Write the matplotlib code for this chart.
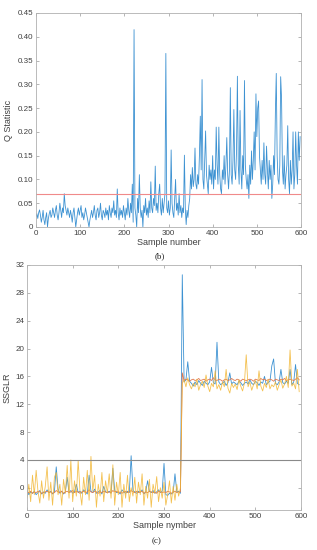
import numpy as np
import matplotlib
matplotlib.use("Agg")
import matplotlib.pyplot as plt

# ---- panel (b): Q statistic, sampled every 2 samples ----
q_x = np.arange(0, 600, 2)
q_vals = [
    0.022, 0.028, 0.018, 0.030, 0.036, 0.025, 0.010, 0.020, 0.035, 0.015, 0.005, 0.020, 0.030, 0.000, 0.018, 0.028, 0.035, 0.020, 0.025, 0.040,
    0.030, 0.020, 0.035, 0.045, 0.025, 0.015, 0.030, 0.050, 0.035, 0.020, 0.040, 0.030, 0.070, 0.045, 0.035, 0.025, 0.040, 0.030, 0.020, 0.035,
    0.025, 0.010, 0.030, 0.040, 0.020, 0.000, 0.015, 0.030, 0.040, 0.025, 0.035, 0.045, 0.020, 0.030, 0.015, 0.025, 0.040, 0.030, 0.020, 0.010,
    0.000, 0.015, 0.025, 0.035, 0.020, 0.030, 0.045, 0.025, 0.015, 0.035, 0.040, 0.020, 0.030, 0.050, 0.025, 0.015, 0.035, 0.030, 0.020, 0.040,
    0.025, 0.035, 0.015, 0.045, 0.030, 0.020, 0.040, 0.030, 0.055, 0.025, 0.035, 0.020, 0.080, 0.030, 0.015, 0.040, 0.025, 0.035, 0.020, 0.045,
    0.030, 0.015, 0.040, 0.025, 0.060, 0.035, 0.020, 0.050, 0.030, 0.090, 0.010, 0.415, 0.040, 0.025, 0.000, 0.060, 0.030, 0.110, 0.040, 0.020,
    0.035, 0.000, 0.045, 0.030, 0.060, 0.025, 0.040, 0.020, 0.055, 0.030, 0.095, 0.040, 0.030, 0.060, 0.045, 0.128, 0.035, 0.050, 0.030, 0.070,
    0.090, 0.040, 0.025, 0.060, 0.030, 0.050, 0.070, 0.365, 0.040, 0.030, 0.055, 0.025, 0.040, 0.162, 0.050, 0.030, 0.020, 0.060, 0.100, 0.035,
    0.050, 0.025, 0.070, 0.030, 0.045, 0.020, 0.040, 0.030, 0.151, 0.040, 0.005, 0.035, 0.020, 0.045, 0.060, 0.110, 0.080, 0.125, 0.085, 0.100,
    0.166, 0.090, 0.080, 0.110, 0.090, 0.150, 0.233, 0.120, 0.310, 0.100, 0.080, 0.140, 0.202, 0.110, 0.090, 0.070, 0.130, 0.100, 0.120, 0.090,
    0.150, 0.080, 0.120, 0.100, 0.210, 0.130, 0.090, 0.210, 0.110, 0.080, 0.070, 0.120, 0.100, 0.150, 0.090, 0.130, 0.188, 0.110, 0.080, 0.120,
    0.293, 0.110, 0.090, 0.140, 0.247, 0.120, 0.100, 0.160, 0.317, 0.130, 0.090, 0.245, 0.120, 0.080, 0.150, 0.110, 0.308, 0.130, 0.100, 0.080,
    0.110, 0.060, 0.130, 0.090, 0.160, 0.100, 0.140, 0.200, 0.120, 0.280, 0.190, 0.250, 0.265, 0.150, 0.120, 0.090, 0.140, 0.100, 0.177, 0.110,
    0.090, 0.170, 0.120, 0.080, 0.140, 0.100, 0.130, 0.060, 0.090, 0.150, 0.110, 0.240, 0.323, 0.150, 0.100, 0.090, 0.130, 0.316, 0.270, 0.120,
    0.090, 0.150, 0.080, 0.110, 0.130, 0.213, 0.100, 0.070, 0.140, 0.090, 0.120, 0.200, 0.080, 0.110, 0.200, 0.130, 0.090, 0.200, 0.140, 0.190,
]
q_limit = 0.07

# ---- panel (c): SSGLR, sampled every 4 samples ----
s_x = np.arange(0, 600, 4)
s_blue = [
    -0.3, -1.0, -0.6, -0.8, -0.5, -1.0, -0.7, -0.4, -0.9, -0.6, -0.8, -0.3, -0.7, -0.5, -0.9,
    -0.6, 3.0, -0.2, -0.8, -0.5, -0.9, -0.6, 1.5, -0.7, -0.4, -0.8, -0.6, 0.5, -0.7, -0.5,
    -0.8, -0.3, -0.6, -0.9, 1.8, -0.5, -0.7, -0.2, -0.8, -0.6, -0.4, -0.9, 0.2, -0.6, -0.7,
    -0.5, -0.8, 2.8, -0.4, -0.7, -0.6, -0.9, -0.3, -0.6, -0.8, -0.5, -0.7, 4.6, -0.4, -0.6,
    -0.8, -0.5, -0.7, -0.3, -0.9, -0.6, 1.0, -0.5, -0.7, -0.4, -0.8, -0.6, -0.3, -0.7, -0.5,
    3.5, -1.0, -1.1, -0.8, -0.9, -0.7, 2.0, -0.6, -0.5, -0.8, 30.6, 15.2, 15.5, 18.1, 15.3,
    15.0, 14.6, 15.2, 14.8, 15.4, 15.0, 14.7, 15.3, 15.0, 14.8, 15.2, 17.3, 15.1, 14.9, 20.9,
    15.2, 14.8, 15.0, 15.3, 14.7, 15.1, 16.5, 14.9, 15.2, 15.0, 14.8, 15.3, 15.1, 14.7, 15.0,
    15.2, 14.9, 15.5, 15.0, 14.8, 15.3, 15.1, 14.7, 15.2, 15.0, 16.0, 14.8, 15.1, 15.3, 17.5,
    18.5, 15.0, 14.8, 15.2, 17.0, 15.1, 14.9, 15.3, 15.0, 17.0, 14.8, 15.2, 17.7, 15.0, 14.8,
]
s_red = [
    -0.6, -0.7, -0.5, -0.8, -0.6, -0.7, -0.5, -0.6, -0.8, -0.7, -0.6, -0.5, -0.7, -0.6, -0.8,
    -0.7, -0.4, -0.6, -0.7, -0.5, -0.8, -0.6, -0.5, -0.7, -0.6, -0.4, -0.7, -0.5, -0.6, -0.8,
    -0.6, -0.5, -0.7, -0.6, -0.3, -0.6, -0.7, -0.5, -0.6, -0.8, -0.6, -0.7, -0.5, -0.6, -0.7,
    -0.6, -0.7, -0.4, -0.6, -0.5, -0.7, -0.6, -0.8, -0.6, -0.5, -0.7, -0.6, -0.4, -0.6, -0.7,
    -0.5, -0.7, -0.6, -0.5, -0.8, -0.6, -0.7, -0.5, -0.6, -0.7, -0.6, -0.8, -0.5, -0.6, -0.7,
    -0.6, -0.7, -0.5, -0.6, -0.8, -0.6, -0.5, -0.7, -0.6, -0.6, 16.5, 15.4, 15.6, 15.5, 15.3,
    15.5, 15.6, 15.4, 15.5, 15.7, 15.4, 15.5, 15.6, 15.3, 15.5, 15.6, 15.4, 15.8, 15.5, 15.4,
    15.6, 15.5, 15.3, 15.5, 15.6, 15.4, 15.5, 15.7, 15.5, 15.4, 15.6, 15.5, 15.3, 15.6, 15.5,
    15.4, 15.5, 15.6, 15.5, 15.3, 15.6, 15.5, 15.4, 15.7, 15.5, 15.6, 15.4, 15.5, 15.6, 15.5,
    15.3, 15.6, 15.5, 15.4, 15.6, 15.5, 15.7, 15.4, 15.5, 15.6, 15.5, 15.4, 15.6, 15.8, 15.5,
]
s_yellow = [
    -1.5, 0.5, -2.0, 1.8, -1.0, 2.5, -0.5, -2.2, 1.0, -1.5, 0.2, 3.0, -1.8, 0.8, -2.5,
    1.5, 2.2, -1.0, 0.5, -2.5, 1.2, -0.8, 3.2, -1.5, 4.0, -2.0, 1.0, -1.2, 3.9, -0.5,
    -2.5, 1.5, -1.0, 2.5, -1.8, 4.5, -0.5, 1.8, -2.8, 0.5, -1.2, 2.2, -2.0, 1.0, -0.8,
    2.0, -1.5, 3.3, -2.5, 0.8, -1.0, 2.2, -2.8, 0.5, -1.5, 1.8, -2.0, 0.0, -1.2, 1.5,
    -2.2, 0.8, -1.0, 2.0, -2.5, 0.2, -1.5, 1.2, -2.8, 0.5, -0.8, 1.6, -2.0, 0.0, -1.5,
    0.8, -2.5, -1.0, 1.0, -2.2, 0.2, -1.8, 0.5, -1.2, 0.0, 15.0, 15.5, 14.5, 15.8, 14.8,
    14.2, 15.0, 14.5, 15.6, 14.0, 14.8, 15.3, 14.4, 16.2, 14.6, 13.8, 15.0, 14.5, 16.8, 14.2,
    14.8, 14.0, 15.2, 14.5, 17.0, 14.3, 13.6, 15.0, 14.4, 14.9, 14.1, 15.5, 14.6, 13.9, 15.0,
    19.1, 14.5, 15.2, 14.0, 14.8, 15.4, 14.2, 16.8, 14.6, 13.9, 15.0, 14.4, 15.6, 14.2, 14.8,
    14.5, 15.2, 14.0, 14.8, 15.5, 14.3, 14.9, 16.0, 14.4, 19.8, 14.6, 15.0, 14.2, 17.0, 13.8,
]
s_limit = 4

plt.rcParams["font.family"] = ["Liberation Sans", "DejaVu Sans"]

fig = plt.figure(figsize=(3.17, 5.50), dpi=100)
ax1 = fig.add_axes([0.1136, 0.5873, 0.8359, 0.3891])
ax2 = fig.add_axes([0.0852, 0.0727, 0.8644, 0.4455])


def style(ax):
    for sp in ax.spines.values():
        sp.set_color("#b0b0b0")
        sp.set_linewidth(0.6)
    ax.tick_params(direction="in", length=2, width=0.5, color="#999999",
                   labelsize=5.8, labelcolor="#404040", top=True, right=True, pad=2)


ax1.plot(q_x, q_vals, color="#3d92d2", lw=0.6)
ax1.axhline(q_limit, color="#f08a8a", lw=0.8)
ax1.set_xlim(0, 600)
ax1.set_ylim(0, 0.45)
ax1.set_xticks(range(0, 601, 100))
ax1.set_yticks(np.arange(0, 0.451, 0.05))
ax1.set_yticklabels(["0"] + [f"{v:.2f}" for v in np.arange(0.05, 0.451, 0.05)])
ax1.set_xlabel("Sample number", fontsize=6.5, color="#404040", labelpad=1)
ax1.set_ylabel("Q Statistic", fontsize=6.5, color="#404040", labelpad=3)
style(ax1)

ax2.plot(s_x, s_blue, color="#3d92d2", lw=0.6)
ax2.plot(s_x, s_red, color="#e07a50", lw=0.6)
ax2.plot(s_x, s_yellow, color="#f2b632", lw=0.6, alpha=0.85)
ax2.axhline(s_limit, color="#8a8a8a", lw=0.8)
ax2.set_xlim(0, 600)
ax2.set_ylim(-3.2, 32)
ax2.set_xticks(range(0, 601, 100))
ax2.set_yticks(range(0, 33, 4))
ax2.set_xlabel("Sample nymber", fontsize=6.5, color="#404040", labelpad=1)
ax2.set_ylabel("SSGLR", fontsize=6.5, color="#404040", labelpad=3)
style(ax2)

fig.text(0.505, 1 - 256 / 550, "(b)", ha="center", va="center",
         fontsize=6.5, family="Liberation Serif", color="#222222")
fig.text(0.495, 1 - 541 / 550, "(c)", ha="center", va="center",
         fontsize=6.5, family="Liberation Serif", color="#222222")

fig.savefig("out.png", dpi=100)
